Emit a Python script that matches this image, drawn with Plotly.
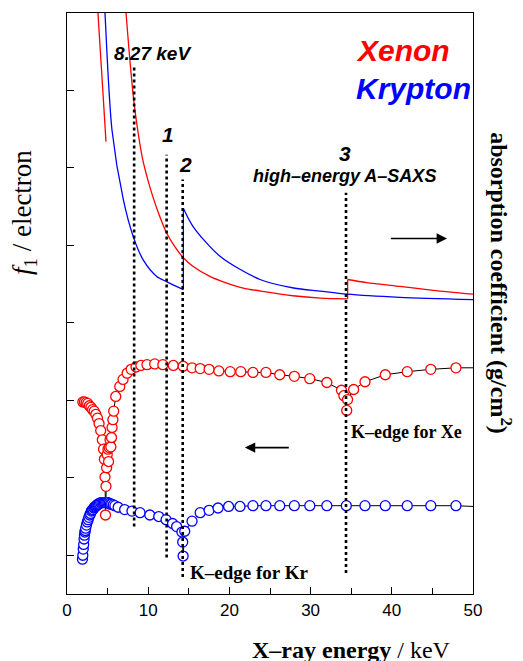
import plotly.graph_objects as go

# ---------------- data (energy in keV, y in arbitrary chart units; left ticks at 0..6) ----------------
# absorption coefficient, xenon, below L3 edge
xe_abs_L_E = [3.72, 4.05, 4.40, 4.80]
xe_abs_L_y = [7.16, 6.60, 6.02, 5.34]
# absorption coefficient, xenon, between L1 and K edge
xe_abs_mid_E = [7.05, 7.27, 7.64, 8.17, 8.58, 9.3, 10.0, 10.63, 11.4, 12.27, 13.3, 14.33, 15.5, 17.6, 19.5,
                21.7, 24.5, 27.8, 31.2, 34.56]
xe_abs_mid_y = [7.30, 7.00, 6.52, 5.92, 5.58, 5.12, 4.83, 4.61, 4.38, 4.16, 3.98, 3.84, 3.73, 3.60, 3.52,
                3.45, 3.40, 3.35, 3.32, 3.31]
# absorption coefficient, xenon, above K edge
xe_abs_K_E = [34.56, 36.9, 41.0, 45.1, 50.0]
xe_abs_K_y = [3.56, 3.52, 3.47, 3.42, 3.37]
# absorption coefficient, krypton, below K edge
kr_abs_lo_E = [4.55, 4.68, 5.54, 6.94, 8.17, 9.4, 11.05, 12.32, 14.33]
kr_abs_lo_y = [7.30, 7.00, 5.49, 4.59, 4.11, 3.81, 3.60, 3.53, 3.43]
# absorption coefficient, krypton, above K edge
kr_abs_K_E = [14.33, 15.55, 18.84, 23.77, 27.9, 31.16, 34.48, 41.0, 50.0]
kr_abs_K_y = [4.48, 4.24, 3.86, 3.56, 3.45, 3.41, 3.37, 3.33, 3.30]

# anomalous scattering factor f1, xenon
xe_f1_E = [1.95, 2.15, 2.35, 2.55, 2.75, 2.95, 3.15, 3.35, 3.55, 3.75, 3.95, 4.15, 4.35, 4.50, 4.60, 4.68, 4.74,
           4.80, 4.88, 4.95, 5.05, 5.12, 5.20, 5.30, 5.40, 5.48, 5.55, 5.65, 5.75, 6.0, 6.5, 6.9, 7.4, 7.9,
           8.5, 9.1, 9.85, 10.8, 11.8, 13.1, 14.3, 15.4, 16.4, 17.5, 18.7, 20.1, 21.4, 22.9, 24.5, 26.2,
           28.0, 29.9, 32.0, 33.8, 34.1, 34.45, 34.55, 35.3, 36.7, 39.2, 41.9, 44.8, 47.9]
xe_f1_y = [1.98, 1.98, 1.97, 1.96, 1.93, 1.91, 1.88, 1.86, 1.82, 1.77, 1.70, 1.61, 1.49, 1.37, 1.24, 1.01, 0.52,
           0.89, 1.13, 1.30, 1.37, 1.21, 1.39, 1.49, 1.40, 1.52, 1.65, 1.75, 1.86, 2.05, 2.18, 2.27, 2.35, 2.40,
           2.43, 2.45, 2.46, 2.47, 2.46, 2.45, 2.44, 2.42, 2.41, 2.40, 2.38, 2.37, 2.37, 2.36, 2.36, 2.33,
           2.31, 2.28, 2.23, 2.13, 2.06, 1.87, 2.01, 2.14, 2.24, 2.33, 2.37, 2.40, 2.42]
xe_f1_end = [50.0, 2.42]

# anomalous scattering factor f1, krypton
kr_f1_E = [1.90, 1.95, 2.00, 2.05, 2.10, 2.15, 2.20, 2.25, 2.30, 2.40, 2.50, 2.60, 2.70, 2.80, 2.90, 3.00,
           3.10, 3.20, 3.30, 3.40, 3.50, 3.60, 3.70, 3.80, 3.90, 4.00, 4.15, 4.30, 4.45, 4.60, 4.75, 4.90,
           5.05, 5.20, 5.35, 5.50, 5.70, 5.90, 6.3, 7.1, 8.0, 9.0, 10.2, 11.3, 12.2, 13.0, 13.5, 14.15, 14.25, 14.3,
           14.5, 15.4, 16.4, 17.5, 18.6, 19.9, 21.3, 22.9, 24.5, 26.2, 28.0, 29.9, 32.0, 34.4, 36.7,
           39.2, 41.9, 44.8, 47.9]
kr_f1_y = [-0.05, 0.00, 0.08, 0.14, 0.21, 0.26, 0.30, 0.32, 0.35, 0.39, 0.43, 0.46, 0.49, 0.52, 0.54, 0.57,
           0.58, 0.59, 0.61, 0.62, 0.63, 0.64, 0.65, 0.66, 0.66, 0.67, 0.68, 0.68, 0.68, 0.68, 0.68, 0.68,
           0.68, 0.67, 0.66, 0.66, 0.65, 0.64, 0.62, 0.59, 0.57, 0.55, 0.52, 0.50, 0.46, 0.41, 0.37, 0.30, 0.17, -0.01,
           0.31, 0.44, 0.55, 0.58, 0.61, 0.63, 0.63, 0.64, 0.64, 0.64, 0.64, 0.64, 0.64, 0.64, 0.64,
           0.64, 0.64, 0.64, 0.64]
kr_f1_end = [50.0, 0.63]

# vertical dotted markers: energy, top, bottom
marker_E = [8.27, 12.27, 14.25, 34.36]
marker_top = [6.33, 5.17, 4.85, 4.68]
marker_bot = [0.37, -0.03, -0.28, -0.23]

x_ticks = [0, 10, 20, 30, 40, 50]
y_ticks = [0, 1, 2, 3, 4, 5, 6]

RED = "#FF0000"
BLUE = "#0000FF"
SANS = "Liberation Sans, Arial, sans-serif"
SERIF = "Liberation Serif, Times New Roman, serif"

fig = go.Figure()

def curve(xs, ys, color):
    fig.add_trace(go.Scatter(x=xs, y=ys, mode="lines", showlegend=False, hoverinfo="skip",
                             line=dict(color=color, width=1.3, shape="spline", smoothing=0.8)))

def jump(a_E, a_y, b_E, b_y, color):
    # vertical edge jump joining the end of one branch to the start of the next
    fig.add_trace(go.Scatter(x=[a_E[-1], b_E[0]], y=[a_y[-1], b_y[0]], mode="lines", showlegend=False,
                             hoverinfo="skip", line=dict(color=color, width=1.3)))

# absorption curves
curve(xe_abs_L_E, xe_abs_L_y, RED)
curve(xe_abs_mid_E, xe_abs_mid_y, RED)
curve(xe_abs_K_E, xe_abs_K_y, RED)
jump(xe_abs_mid_E, xe_abs_mid_y, xe_abs_K_E, xe_abs_K_y, RED)
curve(kr_abs_lo_E, kr_abs_lo_y, BLUE)
curve(kr_abs_K_E, kr_abs_K_y, BLUE)
jump(kr_abs_lo_E, kr_abs_lo_y, kr_abs_K_E, kr_abs_K_y, BLUE)

# f1 connecting lines
fig.add_trace(go.Scatter(x=kr_f1_E + [kr_f1_end[0]], y=kr_f1_y + [kr_f1_end[1]], mode="lines",
                         line=dict(color="black", width=1), showlegend=False))
fig.add_trace(go.Scatter(x=xe_f1_E + [xe_f1_end[0]], y=xe_f1_y + [xe_f1_end[1]], mode="lines",
                         line=dict(color="black", width=1), showlegend=False))
# f1 markers
fig.add_trace(go.Scatter(x=kr_f1_E, y=kr_f1_y, mode="markers",
                         marker=dict(symbol="circle", size=10, color="white", line=dict(color=BLUE, width=1.3)),
                         showlegend=False))
fig.add_trace(go.Scatter(x=xe_f1_E, y=xe_f1_y, mode="markers",
                         marker=dict(symbol="circle", size=10, color="white", line=dict(color=RED, width=1.3)),
                         showlegend=False))

# dotted energy markers
for e, t, b in zip(marker_E, marker_top, marker_bot):
    fig.add_trace(go.Scatter(x=[e, e], y=[b, t], mode="lines",
                             line=dict(color="black", width=2.6, dash="dot"), showlegend=False))

ann = []
def txt(x, y, s, size, font=SANS, color="black", xanchor="center", xref="x", yref="y", angle=0):
    ann.append(dict(x=x, y=y, xref=xref, yref=yref, text=s, showarrow=False, xanchor=xanchor, yanchor="middle",
                    textangle=angle, font=dict(family=font, size=size, color=color)))

txt(10.47, 6.48, "<b><i>8.27 keV</i></b>", 19)
txt(12.4, 5.43, "<b><i>1</i></b>", 21)
txt(14.55, 5.04, "<b><i>2</i></b>", 21)
txt(34.2, 5.19, "<b><i>3</i></b>", 21)
txt(34.2, 4.90, "<b><i>high–energy A–SAXS</i></b>", 18)
txt(35.4, 6.52, "<b><i>Xenon</i></b>", 30, color=RED, xanchor="left")
txt(35.4, 6.03, "<b><i>Krypton</i></b>", 30, color=BLUE, xanchor="left")
txt(34.7, 1.59, "<b>K–edge for Xe</b>", 18, font=SERIF, xanchor="left")
txt(14.9, -0.22, "<b>K–edge for Kr</b>", 19, font=SERIF, xanchor="left")

# axis titles
txt(0.70, -0.097, "<b>X–ray energy</b> / keV", 24, font=SERIF, xref="paper", yref="paper")
txt(-0.104, 0.657, "<i>f</i><sub>1</sub> / electron", 27, font=SERIF, xref="paper", yref="paper", angle=-90)
txt(1.069, 0.535, "<b>absorption coefficient (g/cm<sup>2</sup>)</b>", 24, font=SERIF, xref="paper", yref="paper", angle=90)

# arrows
ann.append(dict(x=46.8, y=4.09, ax=39.7, ay=4.09, xref="x", yref="y", axref="x", ayref="y", text="",
                showarrow=True, arrowhead=2, arrowsize=1.3, arrowwidth=1.6, arrowcolor="black"))
ann.append(dict(x=21.9, y=1.39, ax=27.5, ay=1.39, xref="x", yref="y", axref="x", ayref="y", text="",
                showarrow=True, arrowhead=2, arrowsize=1.3, arrowwidth=1.6, arrowcolor="black"))

# page body has an 8px default margin, so the figure is sized to fit the 523x661 window
fig.update_layout(
    width=515, height=653,
    margin=dict(l=59, r=50, t=5, b=67),
    paper_bgcolor="white", plot_bgcolor="white",
    annotations=ann,
    showlegend=False,
)
fig.update_xaxes(range=[0, 50], tickvals=x_ticks, ticks="inside", ticklen=7, tickwidth=1.2, tickcolor="black",
                 minor=dict(dtick=5, ticks="inside", ticklen=6, tickwidth=1.2, tickcolor="black"),
                 showline=True, linecolor="black", linewidth=1.3, mirror=True, showgrid=False, zeroline=False,
                 tickfont=dict(family=SANS, size=17, color="black"))
fig.update_yaxes(range=[-0.5, 7.0], tickvals=y_ticks, ticks="inside", ticklen=7, tickwidth=1.2, tickcolor="black",
                 showticklabels=False, showline=True, linecolor="black", linewidth=1.3, mirror=True,
                 showgrid=False, zeroline=False)

fig.write_html("out.html")
